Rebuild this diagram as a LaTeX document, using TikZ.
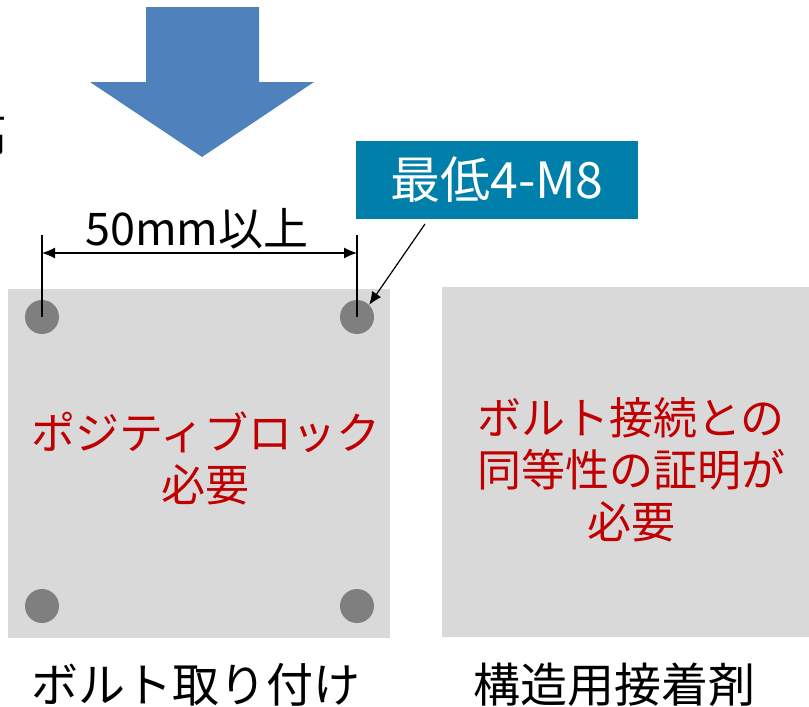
\documentclass[tikz,border=0pt]{standalone}
\usepackage{fontspec}
\setmainfont{Noto Sans CJK JP}
\usetikzlibrary{arrows.meta}
\definecolor{arrowblue}{RGB}{79,129,189}
\definecolor{labelblue}{RGB}{0,127,170}
\definecolor{plategray}{RGB}{217,217,217}
\definecolor{holegray}{RGB}{127,127,127}
\definecolor{darkred}{RGB}{192,0,0}
\tikzset{
  plate/.style={fill=plategray, draw=none},
  hole/.style={circle, fill=holegray, draw=none, minimum size=34pt, inner sep=0pt},
  redtxt/.style={text=darkred, font=\fontsize{44pt}{52pt}\selectfont, align=center},
  captxt/.style={text=black, font=\fontsize{47pt}{52pt}\selectfont},
  dimline/.style={line width=1.2pt},
}
\begin{document}
\begin{tikzpicture}[x=1pt,y=-1pt]
\useasboundingbox (0,0) rectangle (809,707);
% partial glyph cut at left edge
\begin{scope}
\clip (0,0) rectangle (809,707);
\node[font=\fontsize{46pt}{46pt}\selectfont, inner sep=0pt, anchor=east] (cut) at (8,134) {高};
\end{scope}
% big arrow
\fill[arrowblue] (146,7) -- (259,7) -- (259,82) -- (314,82) -- (202,157) -- (90,82) -- (146,82) -- cycle;
% plates
\fill[plate] (8,289) rectangle (390,638);
\fill[plate] (442,287) rectangle (809,637);
% holes
\node[hole] (h1) at (42,317) {};
\node[hole] (h2) at (357,317) {};
\node[hole] (h3) at (42,606) {};
\node[hole] (h4) at (357,606) {};
% dimension
\coordinate (d1) at (42,235);
\coordinate (d2) at (357,235);
\draw[line width=1.6pt] (d1) -- (h1.center);
\draw[line width=1.6pt] (d2) -- (h2.center);
\coordinate (a1) at (42,253);
\coordinate (a2) at (357,253);
\draw[dimline, {Latex[length=13pt,width=11pt]}-{Latex[length=13pt,width=11pt]}] (a1) -- (a2);
\node[font=\fontsize{45pt}{45pt}\selectfont, inner sep=0pt] (dimtxt) at (197,229) {50mm以上};
% label
\node[fill=labelblue, text=white, minimum width=282pt, minimum height=78pt, inner sep=0pt,
      font=\fontsize{50pt}{50pt}\selectfont] (lbl) at (497,180) {最低4-M8};
\coordinate (ls) at (425,224);
\draw[line width=1.2pt, -{Latex[length=13pt,width=11pt]}] (ls) -- (h2.north east);
% red texts
\node[redtxt] (t1) at (206,458) {ポジティブロック\\必要};
\node[redtxt] (t2) at (631,470) {ボルト接続との\\同等性の証明が\\必要};
% captions
\node[captxt] (c1) at (196,685) {ボルト取り付け};
\node[captxt] (c2) at (614,685) {構造用接着剤};
\end{tikzpicture}
\end{document}
